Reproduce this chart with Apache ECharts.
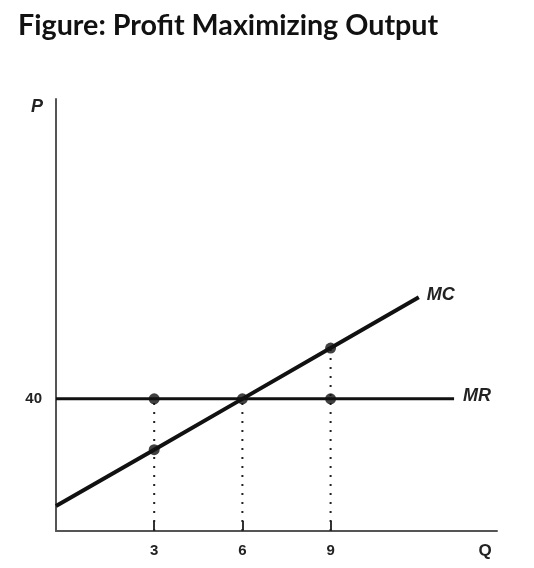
<!DOCTYPE html>
<html>
<head>
<meta charset="utf-8">
<style>
  html, body { margin: 0; padding: 0; background: #fff; }
  #title { position: absolute; left: 18px; top: 7px; margin: 0;
           font: bold 28.7px Lato, "Open Sans", sans-serif; color: #111; }
  #chart { position: absolute; left: 0; top: 0; width: 534px; height: 568px; }
</style>
<script src="https://cdn.jsdelivr.net/npm/echarts@6/dist/echarts.min.js"></script>
</head>
<body>
<div id="chart"></div>
<h1 id="title">Figure: Profit Maximizing Output</h1>
<script>
// Quantity ticks shown on the Q axis and the single labelled price
const qTicks = [3, 6, 9];
const pTicks = [40];

// Marginal cost curve (Q, P) and flat marginal revenue
const mcCurve = [[-0.34, 18.9], [3, 30], [6, 40], [9, 50], [12, 60]];
const mrCurve = [[-0.34, 40], [13.2, 40]];

// Highlighted points on the curves
const markedPoints = [[3, 40], [6, 40], [9, 40], [3, 30], [9, 50]];

// Vertical guides dropped to the Q axis
const guideTops = [[3, 40], [6, 40], [9, 50]];

const axisMin = { q: -0.34, p: 14 };
const axisMax = { q: 14.66, p: 99 };

const ink = '#111';
const axisColor = '#555';
const labelFont = 'Liberation Sans, Arial, sans-serif';

const guideSeries = guideTops.map(function (pt) {
  return {
    type: 'line',
    data: [[pt[0], axisMin.p], pt],
    symbol: 'none',
    silent: true,
    lineStyle: { color: '#222', width: 2, type: [2, 7] },
    z: 1
  };
});

const chart = echarts.init(document.getElementById('chart'), null, { renderer: 'canvas' });
chart.setOption({
  animation: false,
  backgroundColor: '#fff',
  grid: { left: 56, top: 99, right: 37, bottom: 37 },
  xAxis: {
    type: 'value',
    min: axisMin.q,
    max: axisMax.q,
    name: 'Q',
    nameLocation: 'end',
    nameGap: -12,
    nameTextStyle: {
      fontFamily: labelFont, fontSize: 17, fontWeight: 'bold', color: '#222',
      align: 'center', verticalAlign: 'top', padding: [12, 0, 0, 0]
    },
    axisLine: { onZero: false, lineStyle: { color: axisColor, width: 2 } },
    axisTick: { show: true, inside: true, length: 10, customValues: qTicks,
                lineStyle: { color: '#333', width: 2 } },
    axisLabel: { customValues: qTicks, margin: 12, fontFamily: labelFont,
                 fontSize: 15, fontWeight: 'bold', color: '#222' },
    splitLine: { show: false }
  },
  yAxis: {
    type: 'value',
    min: axisMin.p,
    max: axisMax.p,
    name: 'P',
    nameLocation: 'end',
    nameGap: -8,
    nameTextStyle: {
      fontFamily: labelFont, fontSize: 18, fontWeight: 'bold', fontStyle: 'italic',
      color: '#222', align: 'right', verticalAlign: 'middle', padding: [0, 13, 0, 0]
    },
    axisLine: { show: true, onZero: false, lineStyle: { color: axisColor, width: 2 } },
    axisTick: { show: false },
    axisLabel: { customValues: pTicks, margin: 14, fontFamily: labelFont,
                 fontSize: 15, fontWeight: 'bold', color: '#222' },
    splitLine: { show: false }
  },
  series: guideSeries.concat([
    {
      type: 'line',
      name: 'MR',
      data: mrCurve,
      symbol: 'none',
      lineStyle: { color: ink, width: 3 },
      endLabel: { show: true, formatter: 'MR', distance: 9, offset: [0, -3],
                  fontFamily: labelFont, fontSize: 18, fontStyle: 'italic',
                  fontWeight: 'bold', color: '#222' },
      z: 2
    },
    {
      type: 'line',
      name: 'MC',
      data: mcCurve,
      symbol: 'none',
      lineStyle: { color: ink, width: 4 },
      endLabel: { show: true, formatter: 'MC', distance: 8, offset: [0, -2],
                  fontFamily: labelFont, fontSize: 18, fontStyle: 'italic',
                  fontWeight: 'bold', color: '#222' },
      z: 3
    },
    {
      type: 'scatter',
      data: markedPoints,
      symbol: 'circle',
      symbolSize: 11,
      itemStyle: { color: ink },
      z: 4
    }
  ])
});
</script>
</body>
</html>
